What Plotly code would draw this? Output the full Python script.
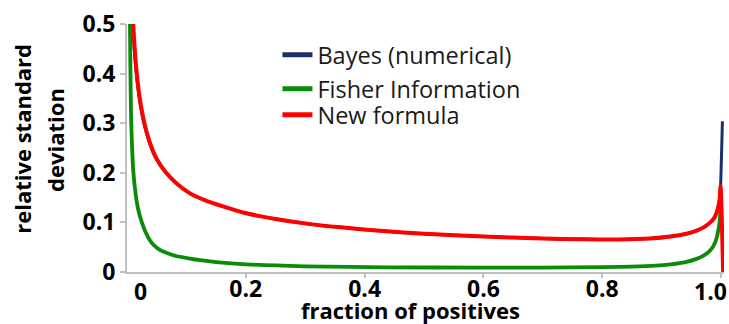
import plotly.graph_objects as go

# ---- data ----
x_new = [0.0085, 0.0105, 0.013, 0.0165, 0.0215, 0.0293, 0.039, 0.050, 0.066, 0.085,
         0.107, 0.135, 0.165, 0.199, 0.250, 0.300, 0.360, 0.426, 0.500, 0.600,
         0.700, 0.770, 0.830, 0.880, 0.915, 0.940, 0.960, 0.972, 0.982, 0.988, 0.993,
         0.996, 0.998, 0.9992, 1.0035]
y_new = [0.56, 0.50, 0.45, 0.40, 0.35, 0.30, 0.259, 0.228, 0.200, 0.177,
         0.158, 0.143, 0.131, 0.119, 0.107, 0.098, 0.090, 0.083, 0.077, 0.0715,
         0.0675, 0.0658, 0.0655, 0.0675, 0.0715, 0.0765, 0.084, 0.091, 0.100, 0.108, 0.121,
         0.135, 0.150, 0.173, 0.0]

x_bayes = [0.0078, 0.0098, 0.0122, 0.0157, 0.0207, 0.0285, 0.0382, 0.0493, 0.0653, 0.0845,
           0.1065, 0.135, 0.165, 0.199, 0.250, 0.300, 0.360, 0.426, 0.500, 0.600,
           0.700, 0.770, 0.830, 0.880, 0.915, 0.940, 0.960, 0.972, 0.982, 0.988, 0.993,
           0.996, 0.998, 0.9992, 1.0023]
y_bayes = [0.56, 0.50, 0.45, 0.40, 0.35, 0.30, 0.259, 0.228, 0.200, 0.177,
           0.158, 0.143, 0.131, 0.119, 0.107, 0.098, 0.090, 0.083, 0.077, 0.0715,
           0.0675, 0.0658, 0.0655, 0.0675, 0.0715, 0.0765, 0.084, 0.091, 0.100, 0.108, 0.121,
           0.135, 0.150, 0.172, 0.304]

x_fisher = [0.0045, 0.0050, 0.0058, 0.0072, 0.0108, 0.018, 0.025, 0.031, 0.039, 0.046, 0.056,
            0.068, 0.080, 0.106, 0.123, 0.150, 0.200, 0.300, 0.440, 0.600, 0.700, 0.800, 0.850,
            0.890, 0.915, 0.940, 0.960, 0.972, 0.982, 0.988, 0.993, 0.996, 0.998, 0.999]
y_fisher = [0.58, 0.50, 0.40, 0.30, 0.20, 0.131, 0.100, 0.081, 0.063, 0.053, 0.044,
            0.038, 0.033, 0.027, 0.0238, 0.020, 0.0155, 0.0115, 0.0095, 0.0088, 0.0090, 0.0098, 0.0108,
            0.0128, 0.0155, 0.020, 0.027, 0.034, 0.044, 0.054, 0.070, 0.088, 0.105, 0.124]

series_names = ["Bayes (numerical)", "Fisher Information", "New formula"]
series_colors = ["#1b2f6b", "#0a8c0a", "#ff0000"]
series_widths = [3, 3.8, 4]
legend_ids = ["legend", "legend2", "legend3"]
legend_rows_px = [55, 89, 115]

x_tickvals = [0.2, 0.4, 0.6, 0.8, 1.0]
x_ticktext = ["0.2", "0.4", "0.6", "0.8", ""]
y_tickvals = [0, 0.1, 0.2, 0.3, 0.4, 0.5]
y_ticktext = ["0", "0.1", "0.2", "0.3", "0.4", "0.5"]

FONT = "Open Sans"
AXIS_GRAY = "#bfbfbf"
PLOT_TOP, PLOT_H = 24, 248

fig = go.Figure()
data_sets = [(x_bayes, y_bayes), (x_fisher, y_fisher), (x_new, y_new)]
for (xs, ys), name, col, w, lg in zip(data_sets, series_names, series_colors,
                                      series_widths, legend_ids):
    fig.add_trace(go.Scatter(
        x=xs, y=ys, mode="lines", name=name, legend=lg,
        line=dict(color=col, width=w, shape="spline", smoothing=0.8),
    ))

BOLD = dict(family=FONT, size=23, color="black", weight="bold")

legend_layouts = {}
for lg, row in zip(legend_ids, legend_rows_px):
    legend_layouts[lg] = dict(
        x=0.252, y=(PLOT_TOP + PLOT_H - row) / PLOT_H, xanchor="left", yanchor="middle",
        bgcolor="rgba(0,0,0,0)", borderwidth=0, itemsizing="constant",
        font=dict(family=FONT, size=23.5, color="#1a1a1a"),
        itemwidth=30,
    )

fig.update_layout(
    width=729, height=324,
    margin=dict(l=127, r=5, t=PLOT_TOP, b=52),
    paper_bgcolor="white", plot_bgcolor="white",
    font=dict(family=FONT, color="black"),
    showlegend=True,
    **legend_layouts,
    xaxis=dict(
        range=[0, 1.005], showgrid=False, zeroline=False,
        showline=True, linecolor=AXIS_GRAY, linewidth=2,
        ticks="outside", ticklen=4, tickwidth=1.5, tickcolor=AXIS_GRAY,
        tickvals=x_tickvals, ticktext=x_ticktext,
        tickfont=BOLD, ticklabelstandoff=-9,
    ),
    yaxis=dict(
        range=[0, 0.5], showgrid=False, zeroline=False,
        showline=True, linecolor=AXIS_GRAY, linewidth=2,
        ticks="outside", ticklen=5, tickwidth=1.5, tickcolor=AXIS_GRAY,
        tickvals=y_tickvals, ticktext=y_ticktext,
        tickfont=BOLD,
    ),
    annotations=[
        dict(text="0", xref="x", yref="paper", x=0.022, y=(272 - 291) / PLOT_H,
             xanchor="center", yanchor="middle", showarrow=False, font=BOLD),
        dict(text="1.0", xref="x", yref="paper", x=0.982, y=(272 - 291) / PLOT_H,
             xanchor="center", yanchor="middle", showarrow=False, font=BOLD),
        dict(text="fraction of positives", xref="paper", yref="paper",
             x=(410 - 127) / 596, y=(272 - 309.5) / PLOT_H, xanchor="center", yanchor="middle",
             showarrow=False, font=dict(family=FONT, size=22, color="black", weight="bold")),
        dict(text="relative standard", xref="paper", yref="paper",
             x=(22 - 127) / 596, y=(272 - 139) / PLOT_H, textangle=-90,
             xanchor="center", yanchor="middle", showarrow=False,
             font=dict(family=FONT, size=22, color="black", weight="bold")),
        dict(text="deviation", xref="paper", yref="paper",
             x=(55 - 127) / 596, y=(272 - 140) / PLOT_H, textangle=-90,
             xanchor="center", yanchor="middle", showarrow=False,
             font=dict(family=FONT, size=22, color="black", weight="bold")),
    ],
)

fig.write_html("out.html")
